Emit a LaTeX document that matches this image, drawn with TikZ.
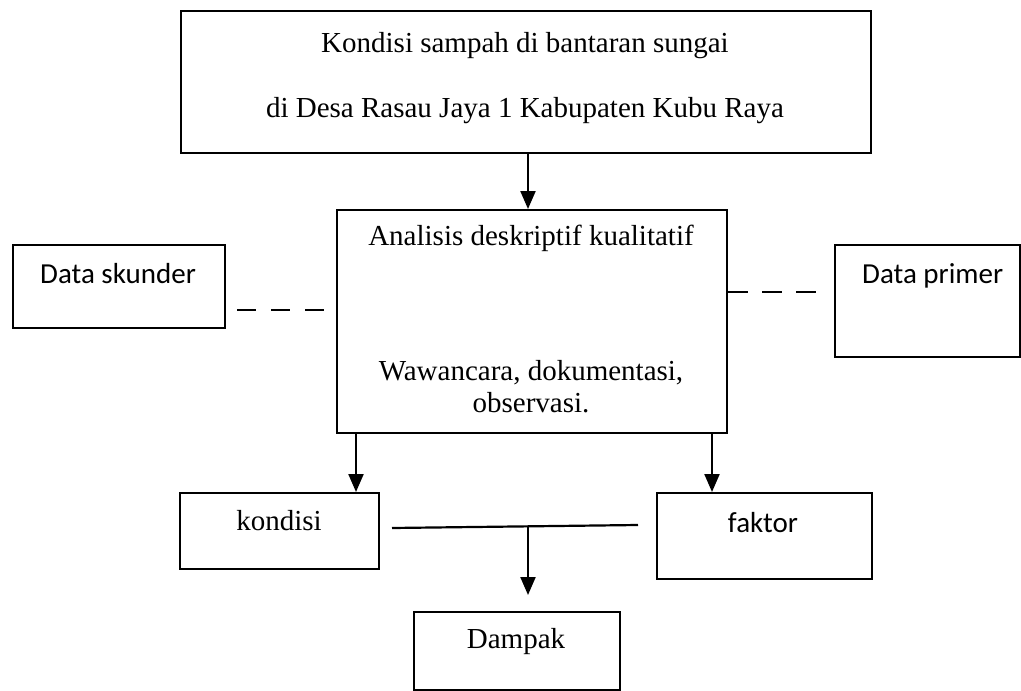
\documentclass[tikz,border=0pt]{standalone}
\usepackage{fontspec}
\setmainfont{Liberation Serif}
\newfontfamily\calibri{Carlito}
\usetikzlibrary{arrows.meta}
\begin{document}
\begin{tikzpicture}[x=1pt,y=-1pt,
  box/.style={draw, line width=2.2pt, inner sep=0pt, anchor=north west},
  lbl/.style={font=\fontsize{29}{34}\selectfont, inner sep=0pt, anchor=base},
  slbl/.style={font=\calibri\fontsize{29}{34}\selectfont, inner sep=0pt, anchor=base west},
  arr/.style={line width=2.2pt, -{Triangle[length=18pt,width=15pt]}},
  dashline/.style={line width=2.2pt, dash pattern=on 19pt off 15pt},
  plain/.style={line width=2.2pt}]
\useasboundingbox (0,0) rectangle (1021,691);
% boxes
\node[box, minimum width=690pt, minimum height=142pt] (top) at (180,10) {};
\node[box, minimum width=390pt, minimum height=223pt] (mid) at (336,209) {};
\node[box, minimum width=212pt, minimum height=83pt] (sek) at (12,244) {};
\node[box, minimum width=185pt, minimum height=112pt] (pri) at (834,244) {};
\node[box, minimum width=199pt, minimum height=76pt] (kon) at (179,492) {};
\node[box, minimum width=215pt, minimum height=86pt] (fak) at (656,492) {};
\node[box, minimum width=206pt, minimum height=78pt] (dam) at (413,611) {};
% texts
\node[lbl] (t1) at (525,52) {Kondisi sampah di bantaran sungai};
\node[lbl] (t2) at (525,117) {di Desa Rasau Jaya 1 Kabupaten Kubu Raya};
\node[lbl] (m1) at (531,245) {Analisis deskriptif kualitatif};
\node[lbl] (m2) at (531,380) {Wawancara, dokumentasi,};
\node[lbl] (m3) at (531,412) {observasi.};
\node[slbl] (s1) at (40,283) {Data skunder};
\node[slbl] (p1) at (862,283) {Data primer};
\node[lbl] (k1) at (279,530) {kondisi};
\node[font=\calibri\fontsize{29}{34}\selectfont, inner sep=0pt, anchor=base] (f1) at (763,532) {faktor};
\node[lbl] (d1) at (516,648) {Dampak};
% connectors
\draw[arr] (top.south -| 528,0) -- (mid.north -| 528,0);
\draw[arr] (mid.south -| 356,0) -- (kon.north -| 356,0);
\draw[arr] (mid.south -| 712,0) -- (fak.north -| 712,0);
\coordinate (hl) at (392,528);
\coordinate (hr) at (638,525);
\draw[plain] (hl) -- (hr);
\coordinate (j) at (528,526.6);
\coordinate (jt) at (528,595);
\draw[arr] (j) -- (jt);
\coordinate (dl1) at (237,310);
\coordinate (dl2) at (326,310);
\draw[dashline] (dl1) -- (dl2);
\coordinate (dr2) at (822,292);
\draw[line width=2.2pt, dash pattern=on 20pt off 14pt] (mid.east |- dr2) -- (dr2);
\end{tikzpicture}
\end{document}
